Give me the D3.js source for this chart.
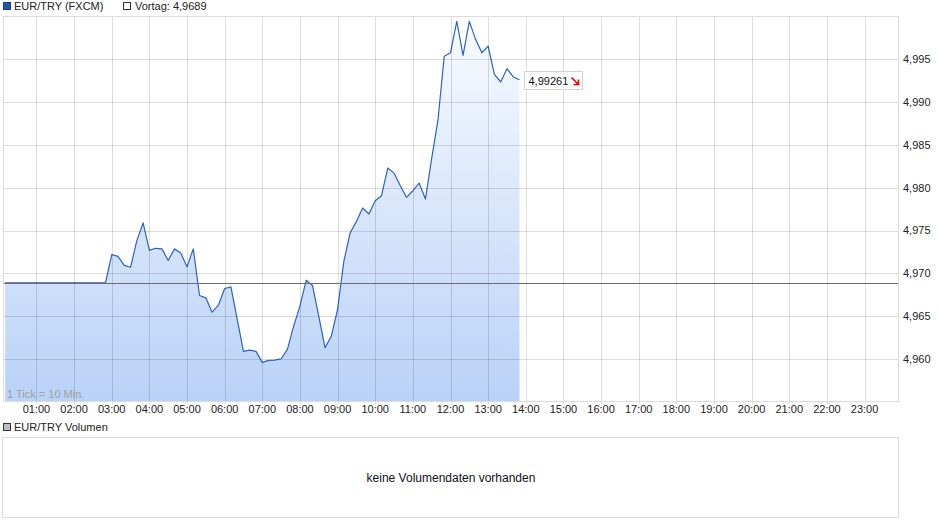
<!DOCTYPE html>
<html><head><meta charset="utf-8">
<script src="https://cdn.jsdelivr.net/npm/d3@7"></script>
<style>body{margin:0;background:#fff;} svg{display:block;font-family:"Liberation Sans",Arial,sans-serif;}</style>
</head><body><svg id="c" width="940" height="526"></svg>
<script>
const times = ["00:10","00:20","00:30","00:40","00:50",
"01:00","01:10","01:20","01:30","01:40","01:50",
"02:00","02:10","02:20","02:30","02:40","02:50",
"03:00","03:10","03:20","03:30","03:40","03:50",
"04:00","04:10","04:20","04:30","04:40","04:50",
"05:00","05:10","05:20","05:30","05:40","05:50",
"06:00","06:10","06:20","06:30","06:40","06:50",
"07:00","07:10","07:20","07:30","07:40","07:50",
"08:00","08:10","08:20","08:30","08:40","08:50",
"09:00","09:10","09:20","09:30","09:40","09:50",
"10:00","10:10","10:20","10:30","10:40","10:50",
"11:00","11:10","11:20","11:30","11:40","11:50",
"12:00","12:10","12:20","12:30","12:40","12:50",
"13:00","13:10","13:20","13:30","13:40","13:50"];
const prices = [4.9689,4.9689,4.9689,4.9689,4.9689,
4.9689,4.9689,4.9689,4.9689,4.9689,4.9689,
4.9689,4.9689,4.9689,4.9689,4.9689,4.9689,
4.97219,4.97199,4.97094,4.97071,4.97382,4.97589,
4.97269,4.97293,4.97286,4.97150,4.97286,4.97239,
4.97076,4.97286,4.96742,4.96714,4.96547,4.96628,
4.96823,4.96843,4.96465,4.96089,4.96104,4.96089,
4.95960,4.95984,4.95987,4.96003,4.96112,4.96384,
4.96617,4.96920,4.96859,4.96500,4.96132,4.96267,
4.96578,4.97141,4.97472,4.97607,4.97763,4.97693,
4.97849,4.97907,4.98230,4.98171,4.98023,4.97887,
4.97965,4.98055,4.97868,4.98342,4.98789,4.99535,
4.99577,4.99943,4.99547,4.99943,4.99733,4.99577,
4.99655,4.99325,4.99235,4.99390,4.99294,4.99261];
const yTicks = [4.960,4.965,4.970,4.975,4.980,4.985,4.990,4.995];
const hourTicks = ["01:00","02:00","03:00","04:00","05:00","06:00","07:00","08:00","09:00","10:00","11:00","12:00",
"13:00","14:00","15:00","16:00","17:00","18:00","19:00","20:00","21:00","22:00","23:00"];
const prevClose = 4.9689;
const lastPrice = 4.99261;
const seriesName = "EUR/TRY (FXCM)";
const volumeName = "EUR/TRY Volumen";
const noVolumeText = "keine Volumendaten vorhanden";
const tickNote = "1 Tick = 10 Min.";

const toH = s => { const [h,m] = s.split(":").map(Number); return h + m/60; };
const data = times.map((t,i)=>({h:toH(t), v:prices[i]}));
const fmt = (v,d) => v.toFixed(d).replace(".", ",");

const svg = d3.select("#c");
const L = 3, R = 899, T = 16, B = 401.5;
const x = d3.scaleLinear().domain([0,24]).range([-1.2, 902.2]);
const y = d3.scaleLinear().domain([4.955, 5.000]).range([401.8, 16.5]);

const defs = svg.append("defs");
defs.append("clipPath").attr("id","clip").append("rect").attr("x",L).attr("y",T).attr("width",R-L).attr("height",B-T);
const grad = defs.append("linearGradient").attr("id","g").attr("x1",0).attr("y1",0).attr("x2",0).attr("y2",1)
  .attr("gradientUnits","userSpaceOnUse").attr("x1",0).attr("y1",T).attr("x2",0).attr("y2",B);
grad.append("stop").attr("offset","0%").attr("stop-color","#f9fbff");
grad.append("stop").attr("offset","100%").attr("stop-color","#b9d2f7");

const plot = svg.append("g").attr("clip-path","url(#clip)");

// area
plot.append("path").datum(data)
  .attr("d", d3.area().x(d=>x(d.h)).y0(B).y1(d=>y(d.v)))
  .attr("fill","url(#g)");

// grid
const grid = svg.append("g").attr("stroke","#000").attr("stroke-opacity",0.135).attr("shape-rendering","crispEdges");
grid.selectAll(".hg").data(yTicks).join("line")
  .attr("x1",L).attr("x2",R).attr("y1",d=>Math.round(y(d))+0.5).attr("y2",d=>Math.round(y(d))+0.5);
grid.selectAll(".vg").data(hourTicks).join("line")
  .attr("x1",d=>Math.round(x(toH(d)))+0.5).attr("x2",d=>Math.round(x(toH(d)))+0.5).attr("y1",T).attr("y2",B+2);

// line
plot.append("path").datum(data)
  .attr("d", d3.line().x(d=>x(d.h)).y(d=>y(d.v)))
  .attr("fill","none").attr("stroke","#2c63c4").attr("stroke-width",1.2).attr("stroke-linejoin","round");

// previous close line
svg.append("line").attr("x1",L).attr("x2",R)
  .attr("y1",Math.round(y(prevClose))+0.5).attr("y2",Math.round(y(prevClose))+0.5)
  .attr("stroke","#6b6b6b").attr("stroke-width",1).attr("shape-rendering","crispEdges");

// border
svg.append("rect").attr("x",L+0.5).attr("y",T+0.5).attr("width",R-L-1).attr("height",B-T-1)
  .attr("fill","none").attr("stroke","#dcdcdc").attr("shape-rendering","crispEdges");

// y labels
svg.append("g").selectAll("text").data(yTicks).join("text")
  .attr("x",903).attr("y",d=>y(d)).attr("dy","0.35em")
  .attr("font-size",11).attr("fill","#222").text(d=>fmt(d,3));

// x labels
svg.append("g").selectAll("text").data(hourTicks).join("text")
  .attr("x",d=>x(toH(d))).attr("y",412.5).attr("text-anchor","middle")
  .attr("font-size",11).attr("fill","#222").text(d=>d);

// tick note
svg.append("text").attr("x",7).attr("y",398).attr("font-size",11).attr("fill","#a0a0a0").text(tickNote);

// legend
svg.append("rect").attr("x",3.5).attr("y",2.5).attr("width",7).attr("height",7).attr("fill","#1f55b8").attr("stroke","#1a3f85");
svg.append("text").attr("x",14).attr("y",10).attr("font-size",11).attr("fill","#222").text(seriesName);
svg.append("rect").attr("x",123.5).attr("y",2.5).attr("width",7).attr("height",7).attr("fill","#fff").attr("stroke","#333");
svg.append("text").attr("x",135).attr("y",10).attr("font-size",11).attr("fill","#222").text("Vortag: " + fmt(prevClose,4));

// last price label
const lp = svg.append("g").attr("transform",`translate(524.5,${Math.round(y(lastPrice))-8.5})`);
lp.append("rect").attr("width",58).attr("height",18).attr("fill","#fff").attr("stroke","#d4d4d4");
lp.append("text").attr("x",4).attr("y",13).attr("font-size",11).attr("fill","#111").text(fmt(lastPrice,5));
lp.append("path").attr("d","M47,6 L54,13 M54,8 L54,13 L49,13").attr("stroke","#e00").attr("stroke-width",1.6).attr("fill","none");

// volume panel
svg.append("rect").attr("x",3.5).attr("y",423.5).attr("width",7).attr("height",7).attr("fill","#bdbdbd").attr("stroke","#333");
svg.append("text").attr("x",14).attr("y",431).attr("font-size",11).attr("fill","#222").text(volumeName);
svg.append("rect").attr("x",2.5).attr("y",437.5).attr("width",896).attr("height",80).attr("fill","#fff").attr("stroke","#dcdcdc");
svg.append("text").attr("x",451).attr("y",482).attr("text-anchor","middle").attr("font-size",12).attr("fill","#111").text(noVolumeText);
</script></body></html>
